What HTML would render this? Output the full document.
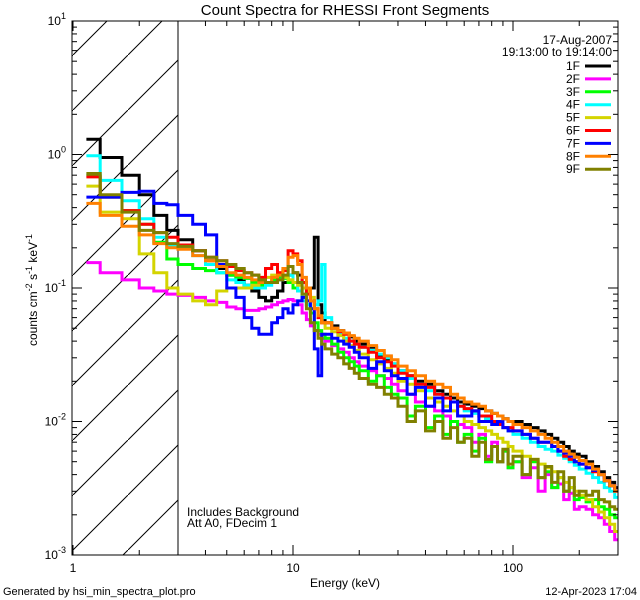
<!DOCTYPE html>
<html><head><meta charset="utf-8"><style>
body{margin:0;background:#fff;}
svg{display:block;font-family:"Liberation Sans",sans-serif;}
</style></head><body>
<svg id="chart" width="640" height="600" viewBox="0 0 640 600" xmlns="http://www.w3.org/2000/svg">
<defs>
<pattern id="hatch" patternUnits="userSpaceOnUse" width="55" height="55" x="73" y="0">
<line x1="0" y1="55" x2="55" y2="0" stroke="#000" stroke-width="1"/>
</pattern>
<clipPath id="plotclip"><rect x="72" y="21" width="546" height="534"/></clipPath>
</defs>
<rect width="640" height="600" fill="#fff"/>
<rect x="72" y="21" width="106" height="534" fill="url(#hatch)"/>
<line x1="178" y1="21" x2="178" y2="555" stroke="#000" stroke-width="1"/>
<g id="series" clip-path="url(#plotclip)"></g>
<g id="axes"></g>
<rect x="72" y="21" width="546" height="534" fill="none" stroke="#000" stroke-width="1"/>
<text x="345" y="15" font-size="15" text-anchor="middle">Count Spectra for RHESSI Front Segments</text>
<text x="612" y="44" font-size="12" text-anchor="end">17-Aug-2007</text>
<text x="612" y="56" font-size="12" text-anchor="end">19:13:00 to 19:14:00</text>
<text x="187" y="516" font-size="12">Includes Background</text>
<text x="187" y="527" font-size="12">Att A0, FDecim 1</text>
<text x="345" y="587" font-size="12" text-anchor="middle">Energy (keV)</text>
<text transform="translate(37,290) rotate(-90)" font-size="12" text-anchor="middle">counts cm<tspan font-size="9" dy="-5">-2</tspan><tspan dy="5"> s</tspan><tspan font-size="9" dy="-5">-1</tspan><tspan dy="5"> keV</tspan><tspan font-size="9" dy="-5">-1</tspan></text>
<text x="3" y="595" font-size="11">Generated by hsi_min_spectra_plot.pro</text>
<text x="637" y="595" font-size="11" text-anchor="end">12-Apr-2023 17:04</text>
<g id="legend"></g>
</svg>
<script>
const edges=[1.15,1.33,1.67,2,2.33,2.67,3,3.5,4,4.5,5,5.5,6,6.5,7,7.5,8,8.5,9,9.5,10,10.5,11,11.5,12,12.5,13,13.5,14,15,16,17,18,19,20,22,24,26,28,30,33,36,40,44,48,52,56,60,65,70,75,80,85,90,95,100,110,120,130,140,150,160,170,180,190,200,215,230,245,260,275,290,300];
const names=["1F","2F","3F","4F","5F","6F","7F","8F","9F"];
const colors=["#000000","#ff00ff","#00ff00","#00ffff","#d4d400","#ff0000","#0000ff","#ff8000","#808000"];
// values in units of 1e-3 counts cm^-2 s^-1 keV^-1
const s1F=[1300,950,700,500,350,270, 230,190,160,140,125,115,105,95,85,80,85,95,110,125,130,125,110,100,100,240,75,65, 55,52,48,46,43,40, 38,36,31,29,27, 24,22,20,19,17,16,15,14, 13.5,13,12.5,12,11.5,11,10.5,10, 10,9.5,9,8.5,8,7.5,7,6.5,6,5.7, 5.5,5,4.6,4.2,3.8,3.5,3.2];
const s2F=[155,130,115,100,95,90, 88,85,80,78,72,70,68,68,70,72,75,78,80,82,80,75,65,58,52,48,45,42, 40,37,35,33,30,28, 26,24,22,21,19, 17,16,14,13,12,11,10,9.5, 9,7,8,5.5,7,5,6,4.5, 5,3.8,4.5,3,4,3.2,3.4,2.6,2.9,2.2, 2.3,2.2,2,1.9,1.7,1.5,1.3];
const s3F=[700,480,380,300,220,165, 150,140,135,130,125,120,118,110,105,110,115,120,118,110,100,95,85,75,65,55,48,45, 42,38,33,30,28,26, 24,20,22,18,16, 15,11,13,9,11,8,10,7, 8,6,7.5,5,6.5,5,6,4.5, 5,4,5,3.8,4.2,3.2,3.8,3,3.2,2.6, 2.7,2.5,2.6,2.3,2.2,2,1.9];
const s4F=[980,640,450,330,240,210, 200,175,150,130,115,110,105,100,100,105,110,115,120,125,110,95,80,75,70,75,80,150, 60,50,45,42,40,38, 36,34,32,30,27, 24,21,19,17,16,15,14,13, 12,11.5,11,10.5,10,9.5,9,8.5, 8,7.5,7,6.5,6.2,6,5.6,5.3,5,4.7, 4.4,4.1,3.8,3.5,3.2,3,2.7];
const s5F=[580,370,330,180,130,100, 90,80,75,95,100,100,100,105,110,120,125,130,120,115,110,105,100,95,85,70,60,55, 50,47,44,40,37,34, 32,29,27,25,23, 20,19,17,15,14,13,12,11, 10,9.5,9,8.5,8,7.5,7,6.5, 6,5.5,5.2,4.8,4.5,4.2,3.8,3.5,3.2,3, 2.8,2.6,2.3,2.1,1.9,1.7,1.5];
const s6F=[680,480,380,300,260,240, 210,190,170,160,145,135,130,125,120,140,150,130,135,190,180,160,110,90,80,70,60,55, 55,50,47,45,40,38, 36,33,30,28,26, 23,22,19,18,16,15,14,13, 12.5,12,11,11,10,9.5,9,9, 8.5,8,7.5,7,7,6.5,6,5.5,5.2,5, 4.8,4.5,4.2,4,3.6,3.3,3];
const s7F=[480,480,520,530,430,420, 350,300,250,150,100,85,60,50,45,45,55,60,70,65,75,80,85,80,70,35,22,45, 45,42,40,38,36,33, 30,25,28,24,22, 21,16,18,13,15,12,14,11, 11,12,10,10,9.5,10,9,8.5, 8.5,8,7.5,7,7,6.5,6,5.8,5.5,5, 4.8,4.5,4.3,4,3.6,3.3,3];
const s8F=[430,350,290,250,215,200, 195,175,160,145,130,125,120,115,110,110,120,125,140,170,175,150,120,100,80,70,62,55, 55,50,48,46,44,42, 40,37,34,31,29, 26,24,22,20,19,18,16,15, 14,13.5,13,12,11.5,11,10.5,10, 9.5,9,8.5,8,7.5,7,6.5,6,5.7,5.4, 5.1,4.8,4.4,4,3.6,3.3,3.0];
const s9F=[720,500,370,270,260,215, 205,190,170,160,150,140,130,125,115,110,110,115,125,145,130,110,90,70,55,48,42,38, 35,32,30,27,25,23, 21,19,18,16,15, 13,10,12,8.5,10,7.5,9,7, 7.5,5.5,7,5.2,6.5,5,6.2,4.8, 5.5,4,5.2,3.8,4.6,3.5,4.2,3,3.8,2.8, 3,2.8,3,2.6,2.5,2.3,2.2];
const seriesData=[s1F,s2F,s3F,s4F,s5F,s6F,s7F,s8F,s9F];
const xTickLabels=["1","10","100"];
const yTickExps=["1","0","-1","-2","-3"];

const X0=73,XD=220,YTOP=21,YD=133.5,YMAXLOG=1;
function xs(e){return X0+XD*Math.log10(e);}
function ys(v){return YTOP+YD*(YMAXLOG-Math.log10(v));}
const NS="http://www.w3.org/2000/svg";
const gS=document.getElementById("series");
seriesData.forEach((arr,k)=>{
  let pts=[];
  arr.forEach((v,i)=>{
    const y=ys(v/1000);
    pts.push(xs(edges[i]).toFixed(1)+","+y.toFixed(1));
    pts.push(xs(edges[i+1]).toFixed(1)+","+y.toFixed(1));
  });
  const pl=document.createElementNS(NS,"polyline");
  pl.setAttribute("points",pts.join(" "));
  pl.setAttribute("fill","none");
  pl.setAttribute("stroke",colors[k]);
  pl.setAttribute("stroke-width","3");
  
  
  gS.appendChild(pl);
});
const gL=document.getElementById("legend");
names.forEach((n,k)=>{
  const y=66+k*12.9;
  const t=document.createElementNS(NS,"text");
  t.setAttribute("x","580");t.setAttribute("y",(y+4).toFixed(1));
  t.setAttribute("font-size","12");t.setAttribute("text-anchor","end");
  t.textContent=n;
  
  
  gL.appendChild(t);
  const l=document.createElementNS(NS,"line");
  l.setAttribute("x1","585");l.setAttribute("x2","611");
  l.setAttribute("y1",y);l.setAttribute("y2",y);
  l.setAttribute("stroke",colors[k]);l.setAttribute("stroke-width","3");
  
  
  gL.appendChild(l);
});
const gA=document.getElementById("axes");
function ln(x1,y1,x2,y2){const l=document.createElementNS(NS,"line");l.setAttribute("x1",x1);l.setAttribute("y1",y1);l.setAttribute("x2",x2);l.setAttribute("y2",y2);l.setAttribute("stroke","#000");l.setAttribute("stroke-width","1");gA.appendChild(l);return l;}
for(let d=0;d<3;d++){for(let m=1;m<10;m++){const e=m*Math.pow(10,d);if(e>300)break;const x=xs(e);const L=m===1?10:5;
  const a=ln(x,555,x,555-L);
  
  
  const b=ln(x,21,x,21+L);
  
  }}
xTickLabels.forEach((s,i)=>{const t=document.createElementNS(NS,"text");t.setAttribute("x",xs(Math.pow(10,i)));t.setAttribute("y","572");t.setAttribute("font-size","12");t.setAttribute("text-anchor","middle");t.textContent=s;
  
  
  gA.appendChild(t);});
for(let d=-3;d<1;d++){for(let m=1;m<10;m++){const v=m*Math.pow(10,d);const y=ys(v);const L=m===1?10:5;
  const a=ln(72,y,72+L,y);
  
  
  const b=ln(618,y,618-L,y);
  
  }}
yTickExps.forEach(ex=>{const y=ys(Math.pow(10,+ex));const t=document.createElementNS(NS,"text");t.setAttribute("x","66");t.setAttribute("y",(y+4).toFixed(1));t.setAttribute("font-size","12");t.setAttribute("text-anchor","end");
  t.innerHTML='10<tspan font-size="9" dy="-6">'+ex+'</tspan>';
  
  
  gA.appendChild(t);});
</script>
</body></html>
